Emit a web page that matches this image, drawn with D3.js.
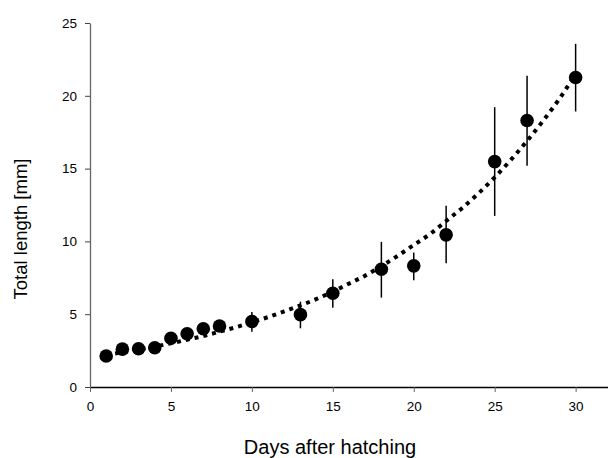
<!DOCTYPE html>
<html>
<head>
<meta charset="utf-8">
<script src="https://cdn.jsdelivr.net/npm/d3@7"></script>
<style>
  body { margin: 0; background: #fff; }
  text { font-family: "Liberation Sans", Arial, sans-serif; }
</style>
</head>
<body>
<div id="chart"></div>
<script>
// measured points
const days = [1, 2, 3, 4, 5, 6, 7, 8, 10, 13, 15, 18, 20, 22, 25, 27, 30];
const meanLength = [2.13, 2.6, 2.63, 2.7, 3.35, 3.66, 4.0, 4.19, 4.5, 4.97, 6.44, 8.09, 8.32, 10.45, 15.48, 18.3, 21.26];
const errLow = [2.0, 2.45, 2.5, 2.55, 3.15, 3.45, 3.8, 3.95, 3.8, 4.03, 5.45, 6.14, 7.33, 8.5, 11.75, 15.19, 18.92];
const errHigh = [2.25, 2.75, 2.8, 2.85, 3.55, 3.85, 4.2, 4.4, 5.15, 5.86, 7.4, 9.97, 9.23, 12.44, 19.22, 21.37, 23.57];

// fitted curve
const fitDays = [1, 2, 3, 4, 5, 6, 7, 8, 9, 10, 11, 12, 13, 14, 15, 16, 17, 18, 19, 20, 21, 22, 23, 24, 25, 26, 27, 28, 29, 30];
const fitLength = [2.2, 2.38, 2.57, 2.78, 3.0, 3.25, 3.5, 3.8, 4.1, 4.45, 4.8, 5.2, 5.6, 6.05, 6.55, 7.1, 7.65, 8.3, 9.0, 9.75, 10.5, 11.4, 12.3, 13.3, 14.4, 15.6, 16.9, 18.3, 19.8, 21.5];

const xTicks = [0, 5, 10, 15, 20, 25, 30];
const yTicks = [0, 5, 10, 15, 20, 25];

const width = 608, height = 458;
const plotLeft = 90, plotRight = 608, plotTop = 23, plotBottom = 387;

let svg = d3.select("#chart").append("svg")
  .attr("width", width)
  .attr("height", height);

let x = d3.scaleLinear().domain([0, 32]).range([plotLeft, plotRight]);
let y = d3.scaleLinear().domain([0, 25]).range([plotBottom, plotTop]);

/* axes */
let xAxis = svg.append("g")
  .attr("transform", `translate(0, ${plotBottom})`)
  .call(d3.axisBottom(x).tickValues(xTicks).tickSize(5).tickSizeOuter(0));
xAxis.select(".domain").attr("stroke", "#000").attr("stroke-width", 1.3);
xAxis.selectAll(".tick line").attr("stroke", "#666");
xAxis.selectAll(".tick text")
  .attr("y", 14)
  .style("font-size", "13.5px")
  .attr("fill", "#000");

let yAxis = svg.append("g")
  .attr("transform", `translate(${plotLeft}, 0)`)
  .call(d3.axisLeft(y).tickValues(yTicks).tickSize(5).tickSizeOuter(0));
yAxis.select(".domain").attr("stroke", "#666").attr("stroke-width", 1.3);
yAxis.selectAll(".tick line").attr("stroke", "#444");
yAxis.selectAll(".tick text")
  .attr("x", -13)
  .style("font-size", "13.5px")
  .attr("fill", "#000");

/* titles */
svg.append("text")
  .attr("x", 330)
  .attr("y", 454)
  .attr("text-anchor", "middle")
  .style("font-size", "20px")
  .text("Days after hatching");

svg.append("text")
  .attr("transform", "translate(27, 229) rotate(-90)")
  .attr("text-anchor", "middle")
  .style("font-size", "18.5px")
  .text("Total length [mm]");

/* error bars */
svg.append("g")
  .selectAll("line")
  .data(days).enter()
  .append("line")
  .attr("x1", d => x(d))
  .attr("x2", d => x(d))
  .attr("y1", (d, i) => y(errLow[i]))
  .attr("y2", (d, i) => y(errHigh[i]))
  .attr("stroke", "#000")
  .attr("stroke-width", 1.5);

/* points */
svg.append("g")
  .selectAll("circle")
  .data(days).enter()
  .append("circle")
  .attr("cx", d => x(d))
  .attr("cy", (d, i) => y(meanLength[i]))
  .attr("r", 6.8)
  .attr("fill", "#000");

/* fitted curve */
let line = d3.line()
  .x(d => x(d))
  .y((d, i) => y(fitLength[i]))
  .curve(d3.curveMonotoneX);

svg.append("path")
  .attr("d", line(fitDays))
  .attr("fill", "none")
  .attr("stroke", "#000")
  .attr("stroke-width", 4)
  .attr("stroke-dasharray", "4,5");
</script>
</body>
</html>
